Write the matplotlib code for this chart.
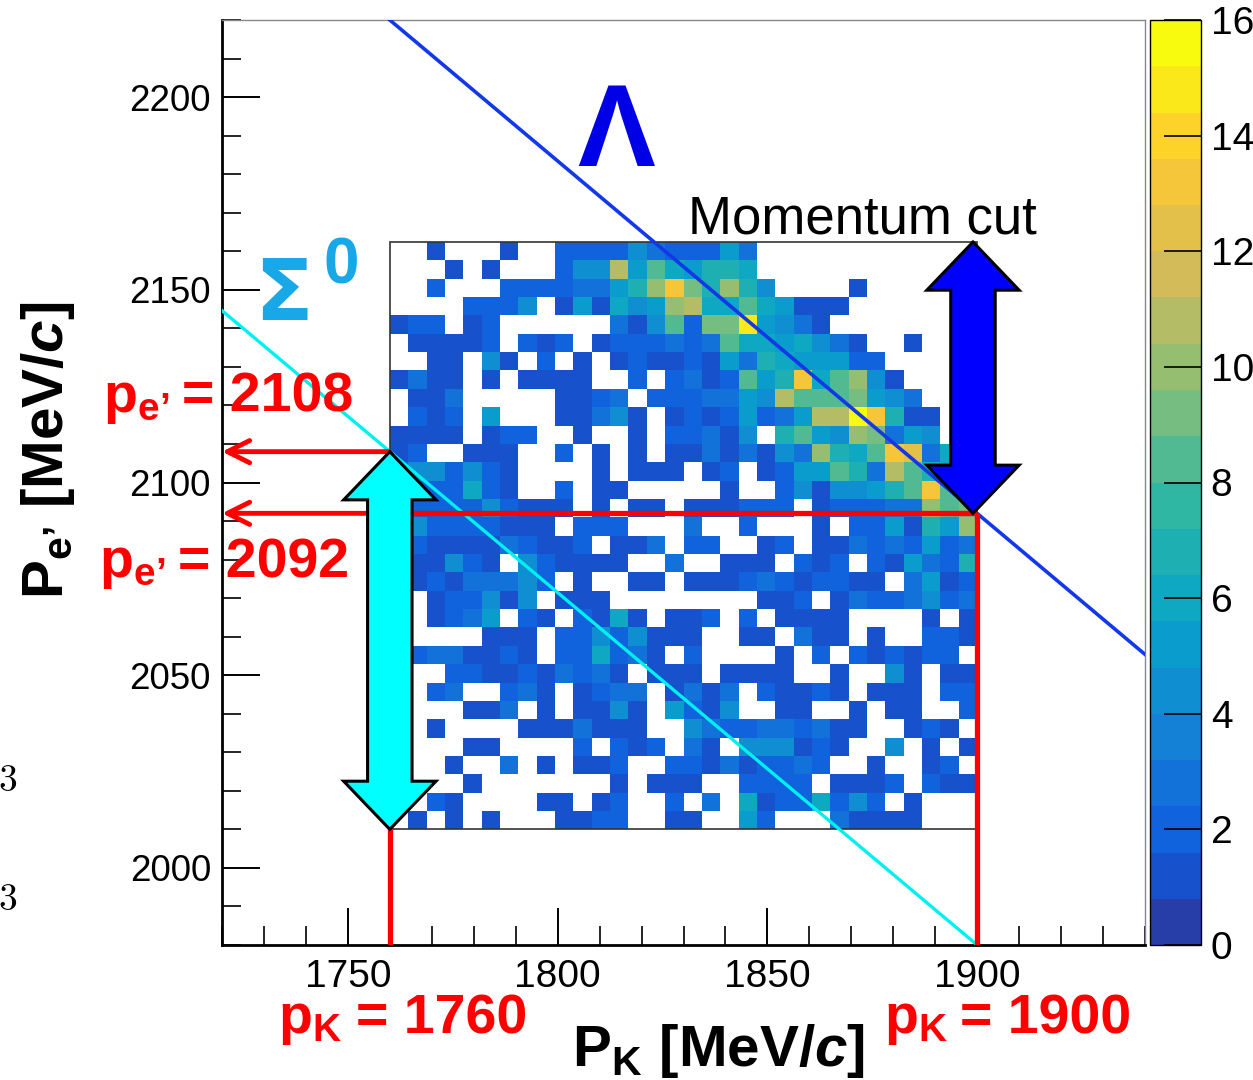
import numpy as np
import matplotlib
matplotlib.use("Agg")
import matplotlib.pyplot as plt
from matplotlib.colors import ListedColormap, BoundaryNorm, LinearSegmentedColormap
from matplotlib.patches import Polygon, Rectangle
from matplotlib.ticker import MultipleLocator, FixedLocator

W, H, DPI = 1253, 1080, 100

# ---- histogram binning (kaon momentum vs scattered-electron momentum) ----
pk_edges = np.linspace(1760, 1900, 33)
pe_edges = np.linspace(2010, 2162.4, 33)

# counts per bin, top row = highest P_e'; '.' = 0, digits, a..g = 10..16
count_rows = [
    "..1...1..22" "224322253.." "..........",
    "...1.1...24" "4b5865776.." "..........",
    "..2...22223" "357ad97a74." "...1......",
    "....2224.15" "1645ab66865" "111.......",
    "122.12....." ".3148299f54" "31........",
    ".11112.212." "12223238665" "6431..1...",
    "..11.41.2.1" ".1211215376" "55522.....",
    "1311.1.1111" "..2.2312857" "d68a41....",
    ".113.....11" "23.2223354b" "8889543...",
    ".212.5...11" "341.1212523" "5bbgd711..",
    "1111.122..1" "..1.22314.7" "854a9354..",
    "12..111..2." "1.1.1131314" "3a768dc36.",
    "2442421...." "1.111.12.12" "55873b8763",
    "2222621..2." "11.....1..2" "4144578d86",
    "2222242111." "1.11.111222" ".122233a89",
    "242222111.2" "22...3..2.." ".1.225175a",
    "22111132112" ".113.22..12" ".113232523",
    "111421.4211" "11..3..111." "212.215327",
    "112133342.1" "..11.111232" "12211.3512",
    "2.122414.11" "1........11" "2.13223423",
    "2.1235.21.2" "161.112.2.1" "111....1.1",
    "1....111.22" "424111..11." "311.1..221",
    "22331121.22" "6231.2....1" ".2.212122.",
    "1..22112132" "31.111.1111" "..1..41.11",
    "..23..231.1" "233.1313.21" "121.111.22",
    "....113.1.1" "141.5214..1" "1..1.11..2",
    "..1....1113" "111..432233" "2311..121.",
    "....11....2" ".212.31.444" "121..4.1.1",
    "...1..3.1.1" "12..2213122" "32..1..12.",
    "....1......" ".1.111..222" "2.1112.211",
    "..21....11." "12..2.3.612" "26242.1...",
    ".1.1.1...11" "22..11..52." "..31111...",
]

# ---- cut values and kinematic lines ----
pk_low, pk_high = 1760, 1900
pe_sigma, pe_lambda = 2108, 2092
pe_hist_low, pe_hist_high = 2010, 2162.4
lambda_line_pk = [1760, 1940]
lambda_line_pe = [2220, 2055.4]
sigma_line_pk = [1720, 1900]
sigma_line_pe = [2144.6, 1980]

x_ticks = [1750, 1800, 1850, 1900]
y_ticks = [2000, 2050, 2100, 2150, 2200]
z_ticks = [0, 2, 4, 6, 8, 10, 12, 14, 16]

# ROOT kBird palette
bird_stops = [0.0, 0.125, 0.25, 0.375, 0.5, 0.625, 0.75, 0.875, 1.0]
bird_r = [0.2082, 0.0592, 0.0780, 0.0232, 0.1802, 0.5301, 0.8186, 0.9956, 0.9764]
bird_g = [0.1664, 0.3599, 0.5041, 0.6419, 0.7178, 0.7492, 0.7328, 0.7862, 0.9832]
bird_b = [0.5293, 0.8684, 0.8385, 0.7914, 0.6425, 0.4662, 0.3499, 0.1968, 0.0539]

plt.rcParams["font.family"] = ["Liberation Sans", "DejaVu Sans"]
plt.rcParams["mathtext.fontset"] = "custom"
plt.rcParams["mathtext.rm"] = "Liberation Sans:bold"
plt.rcParams["mathtext.it"] = "Liberation Sans:italic:bold"
plt.rcParams["mathtext.bf"] = "Liberation Sans:bold"


def decode(row):
    return [0 if ch == "." else int(ch, 17) for ch in row]


counts = np.array([decode(r) for r in count_rows], dtype=float)[::-1]
counts = np.ma.masked_equal(counts, 0)

bird = LinearSegmentedColormap.from_list(
    "bird", list(zip(bird_stops, zip(bird_r, bird_g, bird_b))))
n_levels = 20
band_cmap = ListedColormap([bird(min((k + 1) / n_levels, 1.0)) for k in range(n_levels)])
norm = BoundaryNorm(np.linspace(0, 16, n_levels + 1), n_levels, clip=True)

fig = plt.figure(figsize=(W / DPI, H / DPI), dpi=DPI)


def fx(x):
    return x / W


def fy(y):
    return 1 - y / H


ax = fig.add_axes([fx(222), fy(945), (1145 - 222) / W, (945 - 20) / H])
ax.set_xlim(1720, 1940)
ax.set_ylim(1980, 2220)

mesh = ax.pcolormesh(pk_edges, pe_edges, counts, cmap=band_cmap, norm=norm,
                     antialiased=False, zorder=1)
ax.add_patch(Rectangle((pk_low, pe_hist_low), pk_high - pk_low,
                       pe_hist_high - pe_hist_low, fill=False, lw=1.2,
                       ec="#333333", zorder=2))

ax.plot(lambda_line_pk, lambda_line_pe, color="#1238e8", lw=2.6, zorder=3)
ax.plot(sigma_line_pk, sigma_line_pe, color="#00f0f0", lw=2.4, zorder=3)

red = "#ff0000"
ax.plot([pk_high, pk_high], [1980, pe_lambda], color=red, lw=3.8, zorder=4,
        solid_capstyle="butt")
ax.plot([pk_low, pk_low], [1980, pe_sigma], color=red, lw=3.8, zorder=4,
        solid_capstyle="butt")
ax.plot([pk_low, pk_high], [pe_lambda, pe_lambda], color=red, lw=3.8, zorder=4,
        solid_capstyle="butt")
for yv in [pe_sigma, pe_lambda]:
    ax.annotate("", xy=(1720, yv), xytext=(pk_low, yv),
                arrowprops=dict(arrowstyle="->", color=red, lw=3.5,
                                mutation_scale=40, shrinkA=0, shrinkB=0),
                zorder=4, annotation_clip=False)


def double_arrow(x0, y_lo, y_hi, face):
    hw, sw, hl = 11.0, 5.3, 12.5
    pts = [(x0, y_hi), (x0 + hw, y_hi - hl), (x0 + sw, y_hi - hl),
           (x0 + sw, y_lo + hl), (x0 + hw, y_lo + hl), (x0, y_lo),
           (x0 - hw, y_lo + hl), (x0 - sw, y_lo + hl), (x0 - sw, y_hi - hl),
           (x0 - hw, y_hi - hl)]
    ax.add_patch(Polygon(pts, closed=True, fc=face, ec="black", lw=2.2,
                         joinstyle="miter", zorder=6))


double_arrow(pk_low, pe_hist_low, pe_sigma, "#00ffff")
double_arrow(pk_high - 1, pe_lambda, pe_hist_high, "#0000ff")

# axes styling (ROOT-like inward ticks)
ax.xaxis.set_major_locator(FixedLocator(x_ticks))
ax.yaxis.set_major_locator(FixedLocator(y_ticks))
ax.xaxis.set_minor_locator(MultipleLocator(10))
ax.yaxis.set_minor_locator(MultipleLocator(10))
ax.tick_params(which="major", direction="in", length=27, width=1.4,
               top=False, right=False)
ax.tick_params(which="minor", direction="in", length=14, width=1.2,
               top=False, right=False)
ax.tick_params(axis="x", which="major", pad=10, labelsize=28)
ax.tick_params(axis="y", which="major", pad=8, labelsize=26.5)
for side in ["left", "bottom"]:
    ax.spines[side].set_linewidth(2.0)
for side in ["top", "right"]:
    ax.spines[side].set_linewidth(1.0)
    ax.spines[side].set_color("#888888")

# colour scale
cax = fig.add_axes([fx(1150), fy(945), 51 / W, 925 / H])
cb = fig.colorbar(mesh, cax=cax, ticks=z_ticks)
cb.outline.set_linewidth(1.0)
cax.tick_params(direction="in", length=27, width=1.2, labelsize=28,
                right=True, left=False, pad=7)
cax.minorticks_off()

# labels and annotations
fig.text(fx(616), fy(166), "\u039b", fontsize=84, fontweight="bold",
         color="#0000e6", ha="center", va="baseline")
fig.text(fx(254), fy(320), "\u03a3", fontsize=62, fontweight="bold",
         family="DejaVu Sans", color="#18a8e8", ha="left", va="baseline")
fig.text(fx(323), fy(284), "0", fontsize=46, fontweight="bold",
         color="#18a8e8", ha="left", va="baseline")
fig.text(fx(688), fy(233), "Momentum cut", fontsize=38, color="black",
         ha="left", va="baseline")

red_kw = dict(fontsize=40, fontweight="bold", color=red, ha="left", va="baseline")
fig.text(fx(103), fy(412), r"$\mathrm{p_{e’}}$", **red_kw)
fig.text(fx(182), fy(412), "= 2108", **red_kw)
fig.text(fx(99), fy(577), r"$\mathrm{p_{e’}}$", **red_kw)
fig.text(fx(178), fy(577), "= 2092", **red_kw)
fig.text(fx(278), fy(1033), r"$\mathrm{p_K}$", **red_kw)
fig.text(fx(356), fy(1033), "= 1760", **red_kw)
fig.text(fx(884), fy(1033), r"$\mathrm{p_K}$", **red_kw)
fig.text(fx(960), fy(1033), "= 1900", **red_kw)

fig.text(fx(572), fy(1066), r"$\mathrm{P_K}$ [MeV/$c$]", fontsize=42,
         fontweight="bold", ha="left", va="baseline")
fig.text(fx(63), fy(599), r"$\mathrm{P_{e’}}$ [MeV/$c$]", fontsize=42,
         fontweight="bold", ha="left", va="baseline", rotation=90,
         rotation_mode="anchor")

for yb in [791, 910]:
    fig.text(fx(-2), fy(yb), "3", fontsize=27, family="cmr10",
             ha="left", va="baseline")

fig.savefig("out.png", dpi=DPI)
